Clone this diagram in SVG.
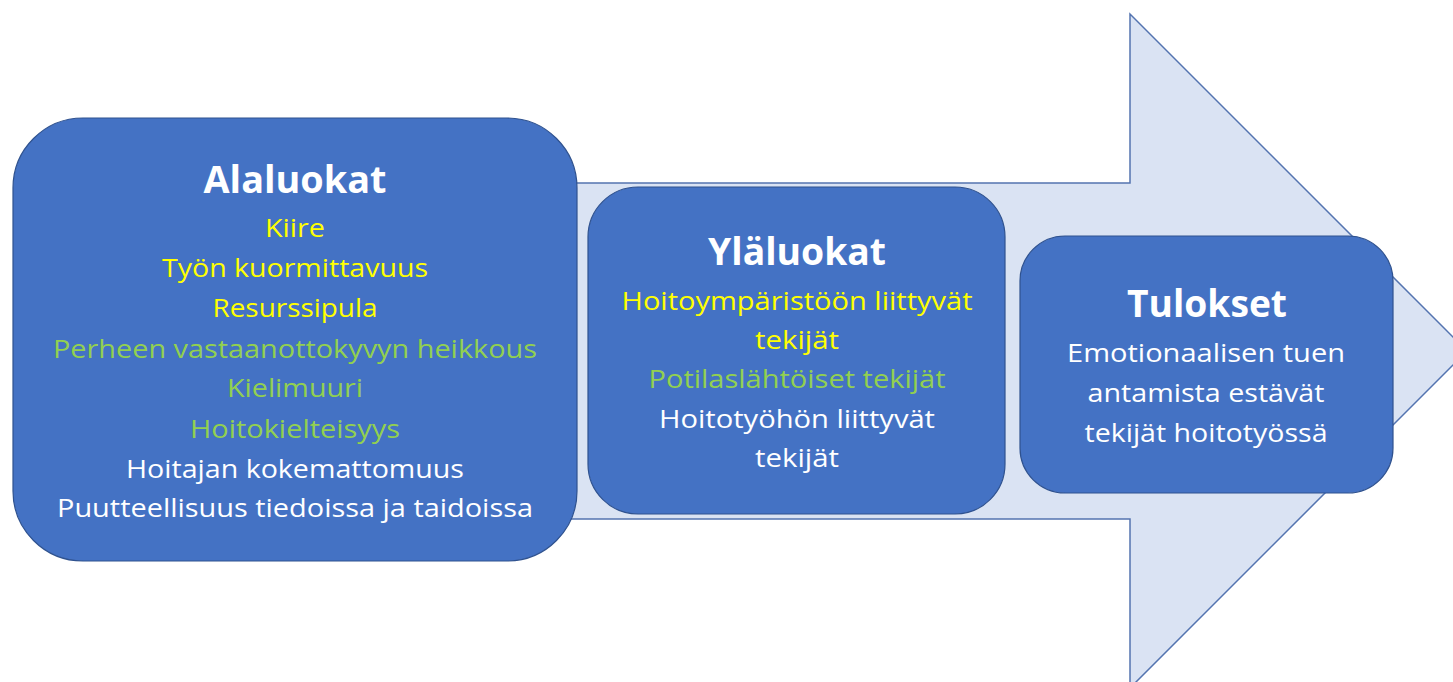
<svg xmlns="http://www.w3.org/2000/svg" width="1453" height="682" viewBox="0 0 1453 682">
<style>
.box{fill:#4472C4;stroke:#2F528F;stroke-width:1.2}
.arrow{fill:#DAE3F3;stroke:#5474B0;stroke-width:1.5}
text{font-family:"Open Sans","Liberation Sans",sans-serif;text-anchor:middle}
.t{font-size:38px;font-weight:bold;fill:#FFFFFF}
.n{font-size:26px}
.w{fill:#FFFFFF}
.y{fill:#FFFF00}
.g{fill:#92D050}
</style>
<rect width="1453" height="682" fill="#FFFFFF"/>
<g id="arrow">
<polygon class="arrow" points="20,183 1130,183 1130,14 1467,351 1130,688 1130,519 20,519"/>
</g>
<g id="connectors"></g>
<g id="alaluokat">
<rect class="box" x="13" y="118" width="564" height="443" rx="70" ry="70"/>
<text class="t" x="295" y="193" textLength="183" lengthAdjust="spacingAndGlyphs">Alaluokat</text>
<text class="n y" x="295" y="237" textLength="60" lengthAdjust="spacingAndGlyphs">Kiire</text>
<text class="n y" x="295" y="277" textLength="266" lengthAdjust="spacingAndGlyphs">Työn kuormittavuus</text>
<text class="n y" x="295" y="317" textLength="165" lengthAdjust="spacingAndGlyphs">Resurssipula</text>
<text class="n g" x="295" y="358" textLength="484" lengthAdjust="spacingAndGlyphs">Perheen vastaanottokyvyn heikkous</text>
<text class="n g" x="295" y="397" textLength="136" lengthAdjust="spacingAndGlyphs">Kielimuuri</text>
<text class="n g" x="295" y="438" textLength="210" lengthAdjust="spacingAndGlyphs">Hoitokielteisyys</text>
<text class="n w" x="295" y="478" textLength="338" lengthAdjust="spacingAndGlyphs">Hoitajan kokemattomuus</text>
<text class="n w" x="295" y="517" textLength="476" lengthAdjust="spacingAndGlyphs">Puutteellisuus tiedoissa ja taidoissa</text>
</g>
<g id="ylaluokat">
<rect class="box" x="588" y="187" width="417" height="327" rx="50" ry="50"/>
<text class="t" x="797" y="265" textLength="178" lengthAdjust="spacingAndGlyphs">Yläluokat</text>
<text class="n y" x="797" y="310" textLength="351" lengthAdjust="spacingAndGlyphs">Hoitoympäristöön liittyvät</text>
<text class="n y" x="797" y="349" textLength="84" lengthAdjust="spacingAndGlyphs">tekijät</text>
<text class="n g" x="797" y="388" textLength="297" lengthAdjust="spacingAndGlyphs">Potilaslähtöiset tekijät</text>
<text class="n w" x="797" y="428" textLength="276" lengthAdjust="spacingAndGlyphs">Hoitotyöhön liittyvät</text>
<text class="n w" x="797" y="467" textLength="84" lengthAdjust="spacingAndGlyphs">tekijät</text>
</g>
<g id="tulokset">
<rect class="box" x="1020" y="236" width="373" height="257" rx="45" ry="45"/>
<text class="t" x="1207" y="317" textLength="160" lengthAdjust="spacingAndGlyphs">Tulokset</text>
<text class="n w" x="1206" y="362" textLength="278" lengthAdjust="spacingAndGlyphs">Emotionaalisen tuen</text>
<text class="n w" x="1206" y="402" textLength="237" lengthAdjust="spacingAndGlyphs">antamista estävät</text>
<text class="n w" x="1206" y="442" textLength="243" lengthAdjust="spacingAndGlyphs">tekijät hoitotyössä</text>
</g>
</svg>
